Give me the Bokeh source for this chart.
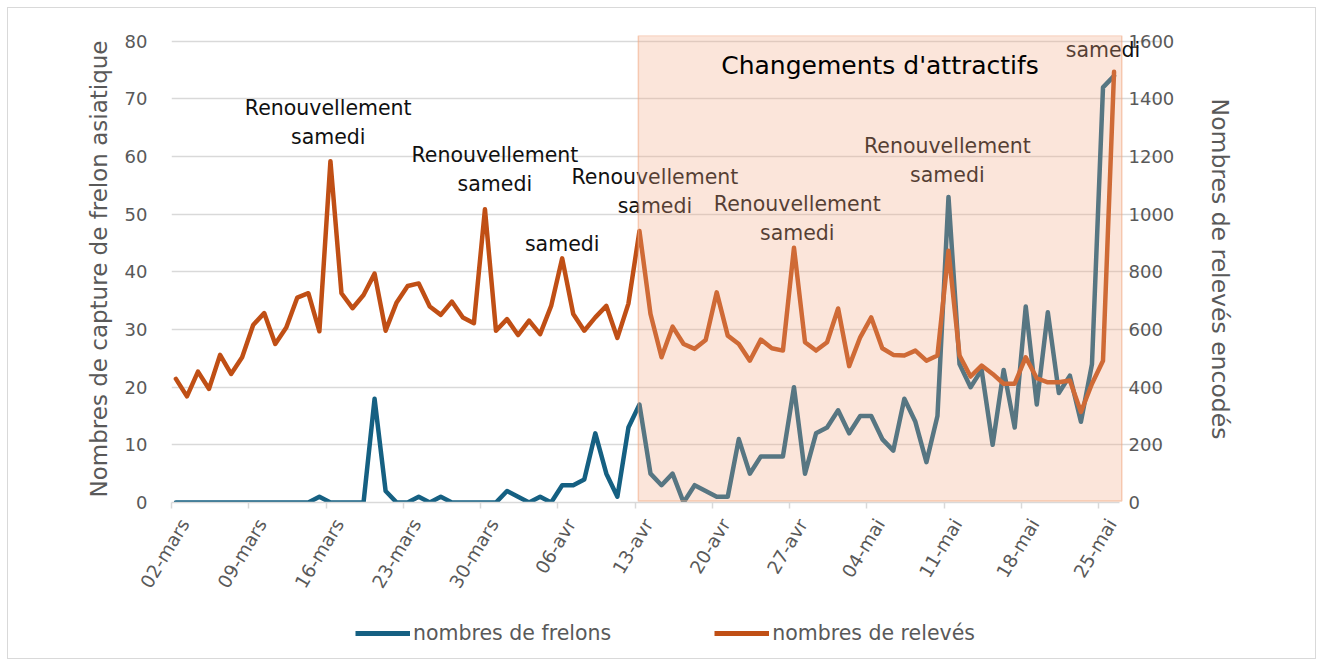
from bokeh.plotting import figure
from bokeh.layouts import column
from bokeh.models import Range1d, LinearAxis, FixedTicker, Legend, LegendItem, Label, BoxAnnotation
from bokeh.embed import file_html
from bokeh.resources import INLINE
import math

# ---------------- data ----------------
tick_labels = ["02-mars", "09-mars", "16-mars", "23-mars", "30-mars", "06-avr", "13-avr",
               "20-avr", "27-avr", "04-mai", "11-mai", "18-mai", "25-mai"]

frelons = [0, 0, 0, 0, 0, 0, 0, 0, 0, 0, 0, 0, 0, 1, 0, 0, 0, 0, 18, 2,
           0, 0, 1, 0, 1, 0, 0, 0, 0, 0, 2, 1, 0, 1, 0, 3, 3, 4, 12, 5,
           1, 13, 17, 5, 3, 5, 0, 3, 2, 1, 1, 11, 5, 8, 8, 8, 20, 5, 12, 13,
           16, 12, 15, 15, 11, 9, 18, 14, 7, 15, 53, 24, 20, 23, 10, 23, 13, 34, 17, 33,
           19, 22, 14, 24, 72, 74]

releves = [429, 368, 454, 394, 512, 446, 504, 616, 657, 550,
           607, 711, 726, 594, 1184, 726, 674, 720, 794, 596,
           694, 751, 760, 680, 651, 697, 642, 622, 1017, 596,
           636, 581, 631, 584, 682, 847, 654, 596, 642, 682,
           571, 690, 942, 654, 504, 610, 550, 533, 564, 729,
           579, 550, 492, 565, 535, 527, 884, 556, 527, 556,
           673, 473, 573, 642, 535, 512, 510, 527, 492, 510,
           873, 510, 437, 475, 446, 412, 412, 504, 431, 417,
           417, 423, 314, 412, 492, 1494]

days = list(range(len(frelons)))

series_names = ["nombres de frelons", "nombres de relevés"]

ann_text = ["Renouvellement", "samedi",
            "Renouvellement", "samedi",
            "samedi",
            "Renouvellement", "samedi",
            "Renouvellement", "samedi",
            "Renouvellement", "samedi",
            "samedi"]
ann_x = [13.8, 13.8, 28.9, 28.9, 35.0, 43.4, 43.4, 56.3, 56.3, 69.9, 69.9, 84.0]
ann_y = [68.4, 63.4, 60.3, 55.2, 44.8, 56.4, 51.4, 51.8, 46.8, 61.8, 56.8, 78.4]

zone_title = "Changements d'attractifs"
zone_start, zone_end = 41.9, 85.7

# ---------------- figure ----------------
GRID = "#D9D9D9"
TXT = "#595959"
BLUE = "#156082"
ORANGE = "#C04F15"
FONT = "DejaVu Sans"
X0, X1 = -0.4, 85.5          # extent of the plotted day axis

p = figure(width=1307, height=592, output_backend="svg", toolbar_location=None,
           x_range=Range1d(X0, 89.3), y_range=Range1d(0, 81),
           min_border_left=163, min_border_right=154, min_border_top=27,
           min_border_bottom=97)
p.outline_line_color = None
p.background_fill_color = "white"
p.border_fill_color = "white"

p.extra_y_ranges = {"r": Range1d(0, 1620)}

# x axis: tick marks on week boundaries ...
xt = [round(7 * k + X0, 1) for k in range(len(tick_labels))]
p.xaxis.ticker = FixedTicker(ticks=xt)
p.xaxis.bounds = (X0, X1)
p.xaxis.major_label_overrides = {t: "" for t in xt}
p.xaxis.major_label_text_font_size = "1px"
p.xaxis.major_label_standoff = 0
p.xaxis.axis_line_color = GRID
p.xaxis.axis_line_width = 1.5
p.xaxis.major_tick_line_color = GRID
p.xaxis.major_tick_line_width = 1.5
p.xaxis.major_tick_in = 0
p.xaxis.major_tick_out = 6
p.xaxis.minor_tick_line_color = None

# ... and the date labels, anchored a little to the right like the original
xl = [round(7 * k + 0.8, 1) for k in range(len(tick_labels))]
la = LinearAxis(ticker=FixedTicker(ticks=xl))
la.major_label_overrides = {t: l for t, l in zip(xl, tick_labels)}
la.major_label_orientation = math.radians(59)
la.major_label_text_font = FONT
la.major_label_text_font_size = "18.5px"
la.major_label_text_color = TXT
la.axis_line_color = None
la.major_tick_line_color = None
la.minor_tick_line_color = None
la.major_tick_in = 0
la.major_tick_out = 0
la.major_label_standoff = 12
p.add_layout(la, "below")

# left axis
p.yaxis.ticker = FixedTicker(ticks=list(range(0, 81, 10)))
p.yaxis.axis_line_color = None
p.yaxis.major_tick_line_color = None
p.yaxis.minor_tick_line_color = None
p.yaxis.major_label_text_font = FONT
p.yaxis.major_label_text_font_size = "18px"
p.yaxis.major_label_text_color = TXT
p.yaxis.major_label_standoff = 18
p.yaxis.axis_label = "Nombres de capture de frelon asiatique"
p.yaxis.axis_label_text_font = FONT
p.yaxis.axis_label_text_font_size = "23px"
p.yaxis.axis_label_text_font_style = "normal"
p.yaxis.axis_label_text_color = TXT
p.yaxis.axis_label_standoff = 10

# right axis
ra = LinearAxis(y_range_name="r", ticker=FixedTicker(ticks=list(range(0, 1601, 200))))
ra.axis_line_color = None
ra.major_tick_line_color = None
ra.minor_tick_line_color = None
ra.major_label_text_font = FONT
ra.major_label_text_font_size = "18px"
ra.major_label_text_color = TXT
ra.major_label_standoff = -39
ra.axis_label = "Nombres de relevés encodés"
ra.axis_label_text_font = FONT
ra.axis_label_text_font_size = "23.5px"
ra.axis_label_text_font_style = "normal"
ra.axis_label_text_color = TXT
ra.axis_label_standoff = 29
p.add_layout(ra, "right")

p.xgrid.grid_line_color = None
p.ygrid.grid_line_color = GRID
p.ygrid.grid_line_width = 1.5
p.ygrid.bounds = (X0, X1)

# series
p.line(days, frelons, line_color=BLUE, line_width=4.5, line_join="round", line_cap="round")
p.line(days, releves, y_range_name="r", line_color=ORANGE, line_width=4.5,
       line_join="round", line_cap="round")

# annotations (drawn before the shaded zone so that the zone tints them)
for t, x, y in zip(ann_text, ann_x, ann_y):
    p.add_layout(Label(x=x, y=y, text=t, text_align="center", text_baseline="middle",
                       text_font=FONT, text_font_size="20.5px", text_color="#111111"))

p.add_layout(BoxAnnotation(left=zone_start, right=zone_end, bottom=0.25, top=81,
                           fill_color="#F1A983", fill_alpha=0.3,
                           line_color="#F1A983", line_alpha=0.55, line_width=1.5))

p.add_layout(Label(x=63.8, y=75.8, text=zone_title, text_align="center",
                   text_baseline="middle", text_font=FONT, text_font_size="25px",
                   text_color="#000000"))

# ---------------- legend strip ----------------
# same series drawn in a strip whose view shows none of them: only the legend is seen
pl = figure(width=1307, height=58, output_backend="svg", toolbar_location=None,
            x_range=Range1d(-20, -10), y_range=Range1d(0, 1),
            x_axis_location=None, y_axis_location=None, min_border=0)
pl.outline_line_color = None
pl.xgrid.grid_line_color = None
pl.ygrid.grid_line_color = None
pl.background_fill_color = "white"
pl.border_fill_color = "white"
k1 = pl.line(days, frelons, line_color=BLUE, line_width=5)
k2 = pl.line(days, releves, line_color=ORANGE, line_width=5)
legend = Legend(items=[LegendItem(label=series_names[0], renderers=[k1]),
                       LegendItem(label=series_names[1], renderers=[k2])],
                orientation="horizontal", location=(184, 13),
                glyph_width=55, glyph_height=20, label_standoff=3, spacing=103,
                padding=0, margin=0, border_line_alpha=0, background_fill_alpha=0,
                label_text_font=FONT, label_text_font_size="20.5px",
                label_text_color=TXT)
pl.add_layout(legend, "center")

page = column(p, pl, spacing=0,
              styles={"border": "1px solid #D9D9D9", "margin": "7px 0px 0px 7px",
                      "background": "white"})

open("out.html", "w").write(file_html(page, INLINE))
